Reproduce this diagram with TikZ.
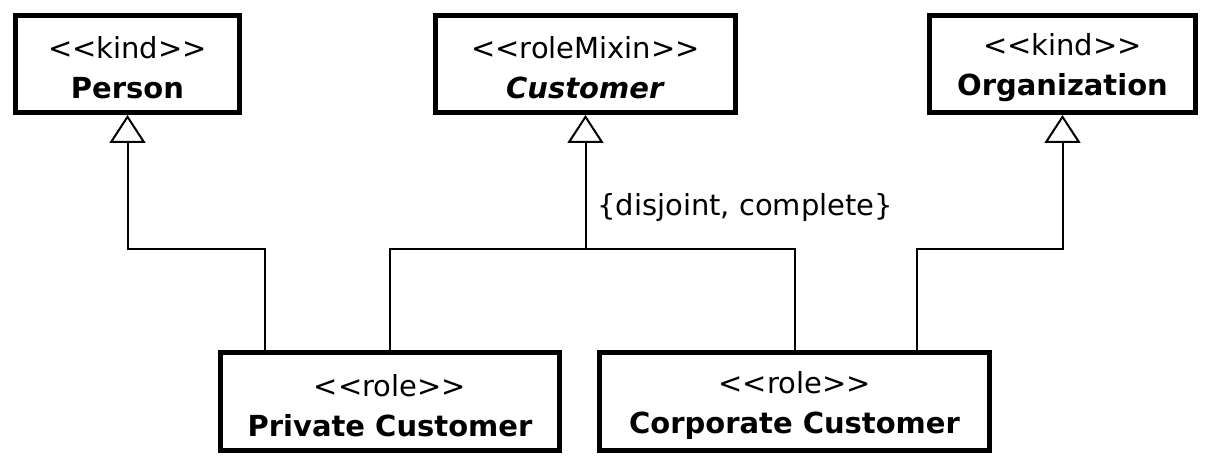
\documentclass[tikz,border=0pt]{standalone}
\usepackage{fontspec}
\setmainfont{DejaVu Sans}[Ligatures=TeXOff]
\usetikzlibrary{arrows.meta}
\newcommand{\upstrut}{\rule{0pt}{30pt}}
\begin{document}
\begin{tikzpicture}[x=1pt,y=-1pt,
  cls/.style={draw, line width=5pt, fill=white, align=center, inner sep=0pt,
    font=\fontsize{29}{40}\selectfont},
  conn/.style={line width=2pt},
  gen/.style={conn, -{Triangle[open, width=36pt, length=28pt, line width=2pt]}},
  lbl/.style={anchor=west, inner sep=0pt, font=\fontsize{29}{36}\selectfont}]
\useasboundingbox[fill=white] (0,0) rectangle (1224,476);
% classes
\node[cls, minimum width=224pt, minimum height=97pt] (person) at (127.5,64)
  {\upstrut<<kind>>\\\textbf{Person}};
\node[cls, minimum width=300pt, minimum height=97pt] (cust) at (585.5,64)
  {\upstrut<<roleMixin>>\\\textbf{\itshape Customer}};
\node[cls, minimum width=266pt, minimum height=97pt] (org) at (1062.5,64)
  {\upstrut<<kind>>\\\textbf{Organization}};
\node[cls, minimum width=339pt, minimum height=98pt] (priv) at (390,401.5)
  {\upstrut<<role>>\\\textbf{Private Customer}};
\node[cls, minimum width=390pt, minimum height=98pt] (corp) at (794.5,401.5)
  {\upstrut<<role>>\\\textbf{Corporate Customer}};
% junction points
\coordinate (j1) at (265,249);
\coordinate (hy) at (585.5,249);
\coordinate (j4) at (917,249);
% generalizations
\draw[gen] (priv.north -| j1) -- (j1) -| (person.south);
\draw[conn] (priv.north) |- (hy) -| (corp.north);
\draw[gen] (hy) -- (cust.south);
\draw[gen] (corp.north -| j4) -- (j4) -| (org.south);
\node[lbl] (gs) at (597,207) {\{disjoint, complete\}};
\end{tikzpicture}
\end{document}
